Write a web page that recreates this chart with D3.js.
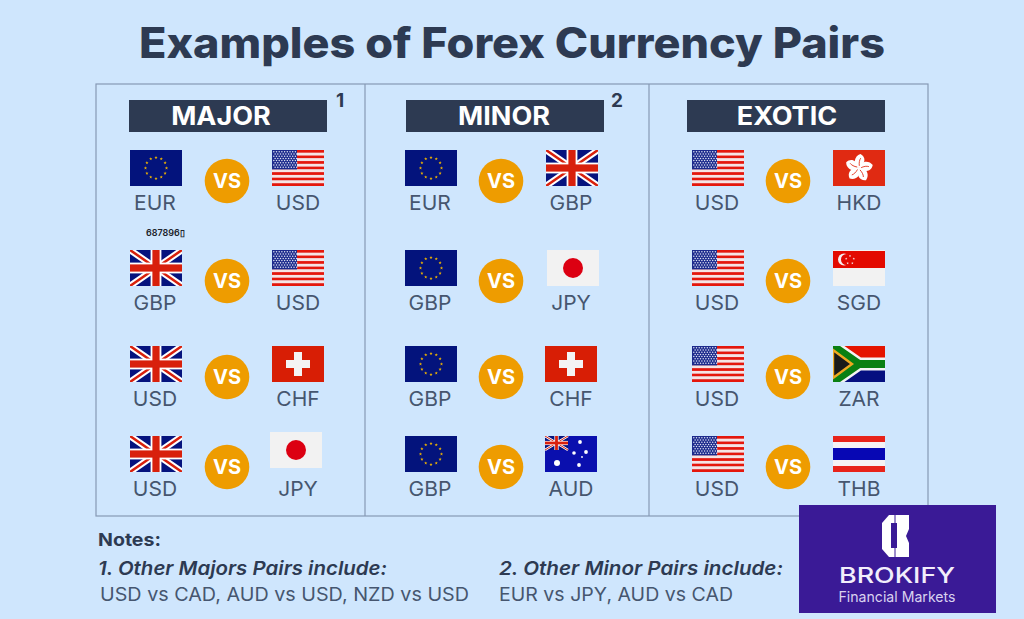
<!DOCTYPE html>
<html lang="en">
<head>
<meta charset="UTF-8">
<title>Examples of Forex Currency Pairs</title>
<script src="https://cdn.jsdelivr.net/npm/d3@7/dist/d3.min.js"></script>
<style>
  html, body { margin: 0; padding: 0; background: #cfe6fd; overflow: hidden; }
  text { font-family: Inter, "Noto Sans", sans-serif; }
</style>
</head>
<body>
<svg id="chart" width="1024" height="619" viewBox="0 0 1024 619"></svg>
<script>
// content
var title = "Examples of Forex Currency Pairs";
var groups = ["MAJOR", "MINOR", "EXOTIC"];
var groupNotes = ["1", "2", ""];
var rows = ["r1", "r2", "r3", "r4"];
var leftLabels = [
  ["EUR", "GBP", "USD", "USD"],
  ["EUR", "GBP", "GBP", "GBP"],
  ["USD", "USD", "USD", "USD"]
];
var rightLabels = [
  ["USD", "USD", "CHF", "JPY"],
  ["GBP", "JPY", "CHF", "AUD"],
  ["HKD", "SGD", "ZAR", "THB"]
];
// flags do not always follow the label in the original (GBP under an EU flag)
var leftFlags = [
  ["EU", "GB", "GB", "GB"],
  ["EU", "EU", "EU", "EU"],
  ["US", "US", "US", "US"]
];
var rightFlags = [
  ["US", "US", "CH", "JP"],
  ["GB", "JP", "CH", "AU"],
  ["HK", "SG", "ZA", "TH"]
];
var noteHead = "Notes:";
var noteTitles = ["1. Other Majors Pairs include:", "2. Other Minor Pairs include:"];
var noteBodies = ["USD vs CAD, AUD vs USD, NZD vs USD", "EUR vs JPY, AUD vs CAD"];

var ink = "#2d3a52", grey = "#46566f", line = "#8699b5", orange = "#ee9c00", navy = "#05137e";
var flagW = 52, flagH = 36;

var svg = d3.select("#chart");
var defs = svg.append("defs");
defs.append("clipPath").attr("id", "flagClip").append("rect").attr("width", flagW).attr("height", flagH);

// layout scales
var panelX = d3.scaleOrdinal().domain(groups).range([96, 365, 649]);
var headX = d3.scaleOrdinal().domain(groups).range([228, 505, 786]);
var headTextX = d3.scaleOrdinal().domain(groups).range([221, 504, 787]);
var leftX = d3.scaleOrdinal().domain(groups).range([156, 431, 718]);
var midX = d3.scaleOrdinal().domain(groups).range([227, 501, 788]);
var rightX = d3.scaleOrdinal().domain(groups).range([298, 571, 859]);
var rowY = d3.scaleOrdinal().domain(rows).range([168, 268, 364, 454]);

// the source face is wider than anything installed: stretch to the measured width
function stretch(sel, k) {
  var w = sel.node().getComputedTextLength();
  return sel.attr("textLength", w * k).attr("lengthAdjust", "spacingAndGlyphs");
}
function fit(sel, w) {
  return sel.attr("textLength", w).attr("lengthAdjust", "spacingAndGlyphs");
}

svg.append("rect").attr("width", 1024).attr("height", 619).attr("fill", "#cfe6fd");

fit(svg.append("text").attr("x", 512).attr("y", 58).attr("text-anchor", "middle")
  .attr("font-size", 42).attr("font-weight", 800).attr("fill", ink).text(title), 746);

svg.append("rect").attr("x", 96).attr("y", 84).attr("width", 832).attr("height", 432)
  .attr("fill", "none").attr("stroke", line).attr("stroke-width", 1.2);
svg.selectAll("line.div").data(groups.slice(1)).enter().append("line")
  .attr("class", "div").attr("x1", panelX).attr("x2", panelX).attr("y1", 84).attr("y2", 516)
  .attr("stroke", line).attr("stroke-width", 1.2);

function star(g, cx, cy, r, fill) {
  var pts = d3.range(10).map(function(i) {
    var a = -Math.PI / 2 + i * Math.PI / 5, q = i % 2 ? r * 0.42 : r;
    return [cx + q * Math.cos(a), cy + q * Math.sin(a)];
  });
  g.append("polygon").attr("points", pts.join(" ")).attr("fill", fill);
}
function box(g, x, y, w, h, fill) {
  g.append("rect").attr("x", x).attr("y", y).attr("width", w).attr("height", h).attr("fill", fill);
}
function unionJack(g, w, h) {
  box(g, 0, 0, w, h, navy);
  g.append("path").attr("d", "M0 0L" + w + " " + h + "M" + w + " 0L0 " + h)
    .attr("stroke", "#fff").attr("stroke-width", h * 0.18);
  g.append("path").attr("d", "M0 0L" + w + " " + h + "M" + w + " 0L0 " + h)
    .attr("stroke", "#d8200c").attr("stroke-width", h * 0.07);
  box(g, w * 0.5 - h * 0.15, 0, h * 0.3, h, "#fff");
  box(g, 0, h * 0.35, w, h * 0.3, "#fff");
  box(g, w * 0.5 - h * 0.1, 0, h * 0.2, h, "#d8200c");
  box(g, 0, h * 0.4, w, h * 0.2, "#d8200c");
}

var flagDraw = {
  EU: function(g) {
    box(g, 0, 0, flagW, flagH, "#03137c");
    d3.range(12).forEach(function(i) {
      var a = i * Math.PI / 6;
      star(g, 26 + 10.5 * Math.cos(a), 18 + 10.5 * Math.sin(a), 1.7, "#f0b400");
    });
  },
  US: function(g) {
    d3.range(13).forEach(function(i) {
      box(g, 0, i * flagH / 13, flagW, flagH / 13 + 0.1, i % 2 ? "#f6e4e4" : "#e5170c");
    });
    box(g, 0, 0, 25, flagH * 7 / 13, "#1c2a8c");
    d3.range(8).forEach(function(r) {
      d3.range(9).forEach(function(c) {
        g.append("circle").attr("cx", 1.8 + c * 2.7 + (r % 2 ? 1.3 : 0)).attr("cy", 1.8 + r * 2.2)
          .attr("r", 0.75).attr("fill", "#dfe4f4");
      });
    });
  },
  GB: function(g) { unionJack(g, flagW, flagH); },
  CH: function(g) {
    box(g, 0, 0, flagW, flagH, "#d81e05");
    box(g, 14, 14, 24, 8, "#f4f4f4");
    box(g, 22, 6, 8, 24, "#f4f4f4");
  },
  JP: function(g) {
    box(g, 0, 0, flagW, flagH, "#f2f2f2");
    g.append("circle").attr("cx", 26).attr("cy", 18).attr("r", 10).attr("fill", "#dc0012");
  },
  AU: function(g) {
    box(g, 0, 0, flagW, flagH, "#0a0fae");
    var jack = g.append("g");
    unionJack(jack, 23, 14);
    [[35, 6, 1.9], [41, 16, 1.9], [29, 17, 1.8], [34, 29, 1.9], [12, 27, 3], [37, 21, 0.9]].forEach(function(s) {
      g.append("circle").attr("cx", s[0]).attr("cy", s[1]).attr("r", s[2]).attr("fill", "#fff");
    });
  },
  HK: function(g) {
    box(g, 0, 0, flagW, flagH, "#e02a12");
    d3.range(5).forEach(function(i) {
      var t = "translate(26,18) rotate(" + (i * 72 + 10) + ")";
      g.append("path").attr("transform", t)
        .attr("d", "M0 0C-7 -2 -7 -11 -1 -14C5 -12 6 -6 0 0Z").attr("fill", "#fff");
      g.append("path").attr("transform", t).attr("d", "M0 -2C-1 -5 -1 -8 0 -10")
        .attr("fill", "none").attr("stroke", "#e02a12").attr("stroke-width", 0.8);
    });
  },
  SG: function(g) {
    box(g, 0, 0, flagW, flagH, "#f2f2f2");
    box(g, 0, 1, flagW, 17, "#e30a00");
    g.append("circle").attr("cx", 11).attr("cy", 9.5).attr("r", 6).attr("fill", "#f5f0f0");
    g.append("circle").attr("cx", 13.5).attr("cy", 9.5).attr("r", 5.5).attr("fill", "#e30a00");
    d3.range(5).forEach(function(i) {
      var a = -Math.PI / 2 + i * 2 * Math.PI / 5;
      star(g, 17 + 4 * Math.cos(a), 10 + 4 * Math.sin(a), 1.2, "#f5f0f0");
    });
  },
  ZA: function(g) {
    box(g, 0, 0, flagW, flagH / 2, "#e51400");
    box(g, 0, flagH / 2, flagW, flagH / 2, "#050f80");
    g.append("path").attr("d", "M0 0L26 18L52 18M0 36L26 18").attr("fill", "none")
      .attr("stroke", "#f4f4f4").attr("stroke-width", 13);
    g.append("path").attr("d", "M0 0L26 18L52 18M0 36L26 18").attr("fill", "none")
      .attr("stroke", "#0a8012").attr("stroke-width", 8);
    g.append("path").attr("d", "M0 4L19 18L0 32Z").attr("fill", "#1a1a1a")
      .attr("stroke", "#eea820").attr("stroke-width", 2.4);
  },
  TH: function(g) {
    box(g, 0, 0, flagW, flagH, "#f6f2f4");
    box(g, 0, 0, flagW, 6, "#e8231a");
    box(g, 0, 30, flagW, 6, "#e8231a");
    box(g, 0, 12, flagW, 12, "#0707b4");
  }
};

function drawFlag(x, y, code) {
  var g = svg.append("g").attr("transform", "translate(" + (x - flagW / 2) + "," + (y - flagH / 2) + ")")
    .attr("clip-path", "url(#flagClip)");
  flagDraw[code](g);
}
function label(x, y, s) {
  stretch(svg.append("text").attr("x", x).attr("y", y + 42).attr("text-anchor", "middle")
    .attr("font-size", 20).attr("fill", grey).text(s), 1.05);
}

groups.forEach(function(name, p) {
  var hx = headX(name);
  svg.append("rect").attr("x", hx - 99).attr("y", 100).attr("width", 198).attr("height", 32).attr("fill", ink);
  stretch(svg.append("text").attr("x", headTextX(name)).attr("y", 125).attr("text-anchor", "middle")
    .attr("font-size", 25).attr("font-weight", 700).attr("fill", "#fff").text(name), 1.08);
  svg.append("text").attr("x", hx + 112).attr("y", 107).attr("text-anchor", "middle")
    .attr("font-size", 19).attr("font-weight", 700).attr("fill", ink).text(groupNotes[p]);
  rows.forEach(function(r, i) {
    var y = rowY(r), code = rightFlags[p][i];
    // some flags sit a little off the grid in the original
    var nudgeX = code === "JP" ? (p === 0 ? -2 : 2) : (code === "GB" ? 1 : 0);
    var nudgeY = code === "JP" && p === 0 ? -4 : 0;
    drawFlag(leftX(name), y, leftFlags[p][i]);
    drawFlag(rightX(name) + nudgeX, y + nudgeY, code);
    label(leftX(name) - 1, y, leftLabels[p][i]);
    label(rightX(name), y, rightLabels[p][i]);
    svg.append("circle").attr("cx", midX(name)).attr("cy", y + 13).attr("r", 22.3).attr("fill", orange);
    svg.append("text").attr("x", midX(name)).attr("y", y + 20).attr("text-anchor", "middle")
      .attr("font-size", 20).attr("font-weight", 700).attr("fill", "#fff").text("VS");
  });
});

// stray watermark digits in the original
svg.append("text").attr("x", 146).attr("y", 235.5).attr("font-size", 9).attr("font-weight", 600)
  .attr("fill", "#20242c").text("687896\u25AF");

// notes
fit(svg.append("text").attr("x", 98).attr("y", 546).attr("font-size", 18).attr("font-weight", 700)
  .attr("fill", ink).text(noteHead), 63);
var titleWidths = [289, 284], bodyWidths = [369, 234];
[98, 499].forEach(function(x, i) {
  fit(svg.append("text").attr("x", x).attr("y", 575).attr("font-size", 19).attr("font-weight", 600)
    .attr("font-style", "italic").attr("fill", ink).text(noteTitles[i]), titleWidths[i]);
  fit(svg.append("text").attr("x", x + (i ? 0 : 2)).attr("y", 601).attr("font-size", 18.5)
    .attr("fill", grey).text(noteBodies[i]), bodyWidths[i]);
});

// logo block
svg.append("rect").attr("x", 799).attr("y", 505).attr("width", 197).attr("height", 108).attr("fill", "#3a1a96");
svg.append("path").attr("fill", "#fff").attr("fill-rule", "evenodd")
  .attr("d", "M889 515H909V529L906 536L909 543V557H889L882 549V523ZM891 523V548H897V523Z");
svg.append("path").attr("d", "M895 515V523M895 548V557").attr("stroke", "#3a1a96").attr("stroke-width", 1);
fit(svg.append("text").attr("x", 897).attr("y", 583).attr("text-anchor", "middle")
  .attr("font-size", 22).attr("font-weight", 500).attr("fill", "#f2eefb").text("BROKIFY"), 116);
fit(svg.append("text").attr("x", 897).attr("y", 602).attr("text-anchor", "middle")
  .attr("font-size", 14.5).attr("fill", "#d9d2ef").text("Financial Markets"), 117);
</script>
</body>
</html>
